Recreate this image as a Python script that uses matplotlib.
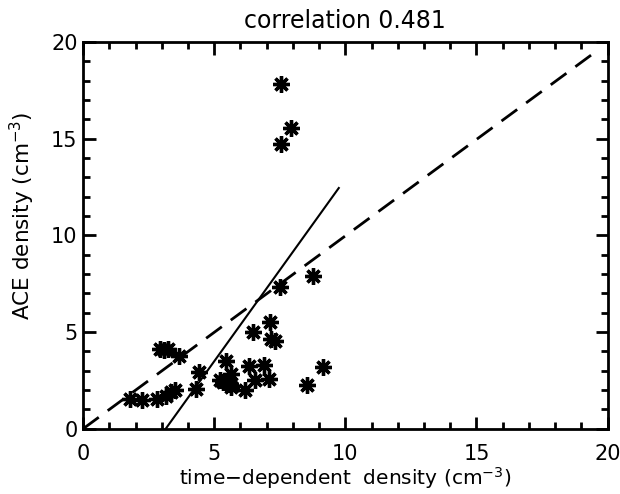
import matplotlib.pyplot as plt
from matplotlib.ticker import MultipleLocator

plt.rcParams['font.family'] = ['DejaVu Sans']

# time-dependent density vs ACE density (cm^-3)
model_density = [1.79, 2.23, 2.80, 3.18, 3.37, 3.50, 2.95, 3.10, 3.25, 3.66,
                 4.32, 4.42, 5.21, 5.34, 5.46, 5.59, 5.65, 5.65, 6.16, 6.32,
                 6.48, 6.54, 6.89, 7.08, 7.11, 7.17, 7.30, 7.49, 7.53, 7.55,
                 7.93, 8.53, 8.76, 9.16]
ace_density = [1.52, 1.50, 1.52, 1.72, 1.90, 1.98, 4.10, 4.05, 4.15, 3.76,
               2.07, 2.93, 2.50, 2.41, 3.53, 2.33, 2.84, 2.15, 2.03, 3.27,
               5.00, 2.50, 3.32, 2.58, 5.51, 4.65, 4.53, 7.32, 14.73, 17.83,
               15.54, 2.29, 7.92, 3.19]

# reference line y = x and the fitted line
ref_x = [0.0, 19.6]
ref_y = [0.0, 19.55]
fit_x = [3.15, 9.75]
fit_y = [0.0, 12.45]

fig = plt.figure(figsize=(6.2, 4.94), dpi=100)
ax = fig.add_axes([0.134, 0.132, 0.846, 0.783])

ax.plot(ref_x, ref_y, color='black', linestyle=(0, (7, 4)), linewidth=2)
ax.plot(fit_x, fit_y, color='black', linewidth=1.5)
ax.plot(model_density, ace_density, linestyle='none', marker=(8, 2, 0),
        markersize=12, markeredgewidth=2.4, color='black')

ax.set_xlim(0, 20)
ax.set_ylim(0, 20)
ax.xaxis.set_major_locator(MultipleLocator(5))
ax.yaxis.set_major_locator(MultipleLocator(5))
ax.xaxis.set_minor_locator(MultipleLocator(1))
ax.yaxis.set_minor_locator(MultipleLocator(1))
ax.tick_params(which='both', direction='in', top=True, right=True, width=2,
               labelsize=15)
ax.tick_params(which='major', length=9)
ax.tick_params(axis='x', which='major', pad=11)
ax.tick_params(axis='y', which='major', pad=4)
ax.tick_params(which='minor', length=5)
for s in ax.spines.values():
    s.set_linewidth(2)

ax.set_title('correlation 0.481', fontsize=17, pad=10)
ax.set_xlabel('time\u2212dependent  density (cm$^{-3}$)', fontsize=14.5, labelpad=1)
ax.set_ylabel('ACE density (cm$^{-3}$)', fontsize=15.5, labelpad=10)
ax.yaxis.label.set_y(0.55)

fig.savefig('out.png', dpi=100)
